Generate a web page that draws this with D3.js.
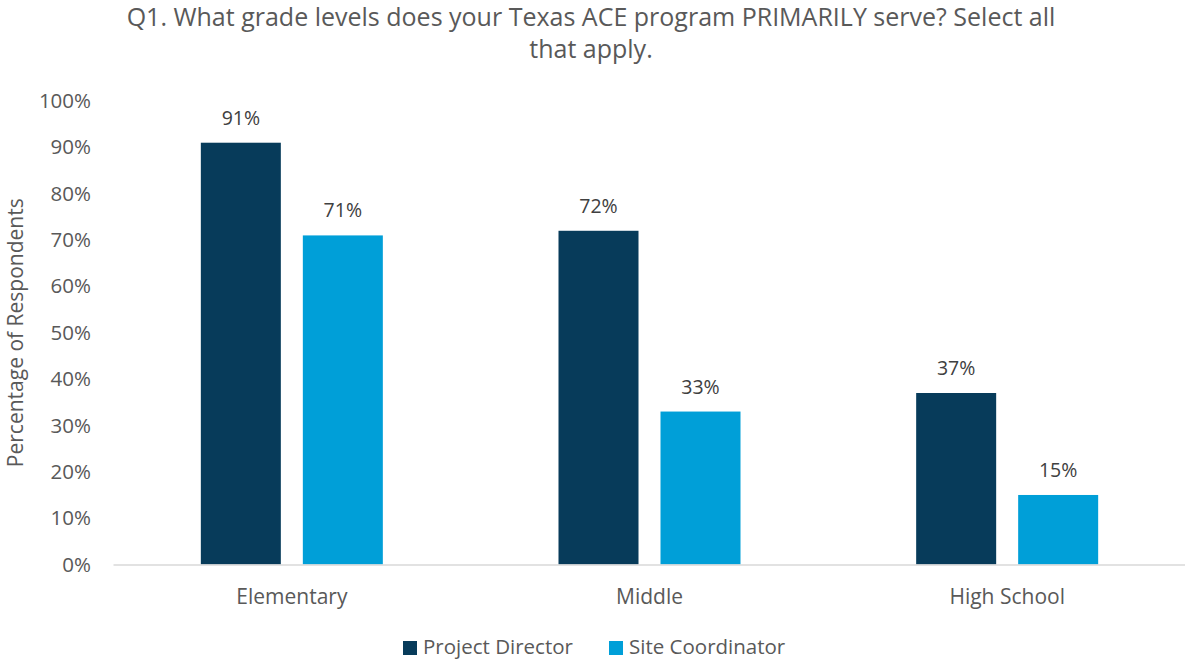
<!DOCTYPE html>
<html>
<head>
<meta charset="utf-8">
<script src="https://cdn.jsdelivr.net/npm/d3@7"></script>
<style>
  html, body { margin: 0; padding: 0; background: #fff; }
  svg { display: block; font-family: "Open Sans", "Liberation Sans", sans-serif; }
</style>
</head>
<body>
<svg id="chart" width="1185" height="659"></svg>
<script>
// Survey results: share of respondents serving each grade level
const categories = ["Elementary", "Middle", "High School"];
const seriesNames = ["Project Director", "Site Coordinator"];
const projectDirector = [91, 72, 37];
const siteCoordinator = [71, 33, 15];
const yTicks = [0, 10, 20, 30, 40, 50, 60, 70, 80, 90, 100];
const titleLines = [
  "Q1. What grade levels does your Texas ACE program PRIMARILY serve? Select all",
  "that apply."
];
const colors = ["#073B5A", "#009FD8"];

const svg = d3.select("#chart");
const textColor = "#595959";

const margin = { left: 113, right: 1186, top: 101, bottom: 564.5 };

const x0 = d3.scaleBand().domain(categories).range([margin.left, margin.right]).padding(0);
const groupW = 182;
const x1 = d3.scaleBand().domain(seriesNames).range([-groupW / 2, groupW / 2]).paddingInner(22 / 102).paddingOuter(0);
const y = d3.scaleLinear().domain([0, 100]).range([margin.bottom, margin.top]);

// Title
svg.append("g").selectAll("text").data(titleLines).join("text")
  .attr("x", 591)
  .attr("y", (d, i) => 26 + i * 32)
  .attr("text-anchor", "middle")
  .attr("fill", textColor)
  .style("font-size", "25px")
  .text(d => d);

// Y axis (labels only)
const yAxis = d3.axisLeft(y).tickValues(yTicks).tickFormat(d => d + "%").tickSize(0).tickPadding(0);
const yg = svg.append("g").attr("transform", `translate(${margin.left - 22},0)`).call(yAxis);
yg.select(".domain").remove();
yg.selectAll("text").attr("fill", textColor).style("font-size", "20.5px")
  .style("font-family", "'Open Sans', sans-serif");

// Y axis title
svg.append("text")
  .attr("transform", `translate(23,${(margin.top + margin.bottom) / 2}) rotate(-90)`)
  .attr("text-anchor", "middle")
  .attr("fill", textColor)
  .style("font-size", "21px")
  .text("Percentage of Respondents");

// Bars
const rows = categories.map((c, i) => ({
  cat: c,
  vals: [
    { s: seriesNames[0], v: projectDirector[i], c: colors[0] },
    { s: seriesNames[1], v: siteCoordinator[i], c: colors[1] }
  ]
}));

const groups = svg.append("g").selectAll("g").data(rows).join("g")
  .attr("transform", d => `translate(${x0(d.cat) + x0.bandwidth() / 2},0)`);

groups.selectAll("rect").data(d => d.vals).join("rect")
  .attr("x", d => x1(d.s))
  .attr("width", x1.bandwidth())
  .attr("y", d => y(d.v))
  .attr("height", d => y(0) - y(d.v))
  .attr("fill", d => d.c);

groups.selectAll("text.lbl").data(d => d.vals).join("text")
  .attr("class", "lbl")
  .attr("x", d => x1(d.s) + x1.bandwidth() / 2)
  .attr("y", d => y(d.v) - 18)
  .attr("text-anchor", "middle")
  .attr("fill", "#404040")
  .style("font-size", "19.5px")
  .text(d => d.v + "%");

// X axis
const xAxis = d3.axisBottom(x0).tickSize(0).tickPadding(0);
const xg = svg.append("g").attr("transform", `translate(0,${margin.bottom})`).call(xAxis);
xg.select(".domain").attr("stroke", "#D9D9D9").attr("stroke-width", 1.5);
xg.selectAll("text").attr("fill", textColor).attr("dy", "0").attr("y", 39)
  .style("font-size", "21px").style("font-family", "'Open Sans', sans-serif");

// Legend
const legend = svg.append("g").attr("transform", "translate(403,640)");
const legendX = [0, 206];
const li = legend.selectAll("g").data(seriesNames).join("g")
  .attr("transform", (d, i) => `translate(${legendX[i]},0)`);
li.append("rect").attr("width", 14).attr("height", 14).attr("y", 1).attr("fill", (d, i) => colors[i]);
li.append("text").attr("x", 20).attr("y", 14).attr("fill", textColor).style("font-size", "20.5px").text(d => d);
</script>
</body>
</html>
